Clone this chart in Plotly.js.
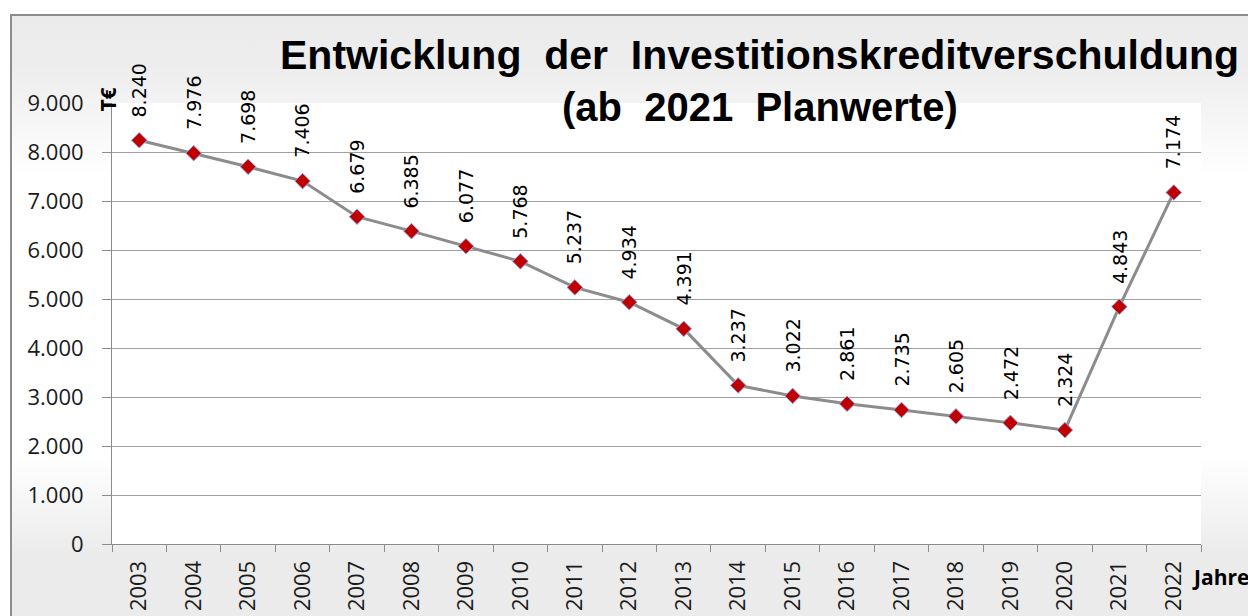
<!DOCTYPE html>
<html><head><meta charset="utf-8">
<script src="https://cdn.plot.ly/plotly-3.0.1.min.js"></script>
<style>
html,body{margin:0;padding:0;background:#fff;}
#wrap{position:relative;width:1248px;height:616px;overflow:hidden;}
#frame{position:absolute;left:10px;top:14px;width:1300px;height:700px;border-left:2px solid #8c8c8c;border-top:2px solid #8c8c8c;
background:linear-gradient(to bottom,#ebebeb 0px,#ededed 50px,#ffffff 160px,#ffffff 440px,#ebebeb 540px,#ebebeb 700px);}
#chart{position:absolute;left:0;top:0;width:1248px;height:616px;}
</style></head>
<body><div id="wrap"><div id="frame"></div><div id="chart"></div></div>
<script>
const years = ["2003","2004","2005","2006","2007","2008","2009","2010","2011","2012","2013","2014","2015","2016","2017","2018","2019","2020","2021","2022"];
const values = [8240,7976,7698,7406,6679,6385,6077,5768,5237,4934,4391,3237,3022,2861,2735,2605,2472,2324,4843,7174];
const yTicks = [0,1000,2000,3000,4000,5000,6000,7000,8000,9000];
const titleLine1 = "Entwicklung\u00a0 der\u00a0 Investitionskreditverschuldung";
const titleLine2 = "(ab\u00a0 2021\u00a0 Planwerte)";
const yUnit = "T€";
const xUnit = "Jahre";

function fmt(v){ return String(v).replace(/\B(?=(\d{3})+(?!\d))/g, "."); }

const trace = {
  type: "scatter", mode: "lines+markers",
  x: years, y: values,
  line: {color: "#8c8c8c", width: 3},
  marker: {symbol: "diamond", size: 12, color: "#c00000", line: {color: "#8fa8e0", width: 1}},
  cliponaxis: false, hoverinfo: "skip"
};

// category axis: annotation x given as category index so numeric-looking names are not read as indices
const labelAnns = years.map((yr, i) => ({
  x: years.indexOf(yr), y: values[i], xref: "x", yref: "y",
  text: fmt(values[i]), textangle: -90, showarrow: false,
  xanchor: "center", yanchor: "bottom", yshift: 21,
  font: {family: "DejaVu Sans", size: 19, color: "#000"}
}));

const otherAnns = [
  {xref: "paper", yref: "paper", x: 0.5945, y: 1.108, text: titleLine1, showarrow: false,
   xanchor: "center", yanchor: "middle", font: {family: "Liberation Sans, Arial", size: 41, color: "#000", weight: "bold"}},
  {xref: "paper", yref: "paper", x: 0.5955, y: 0.99, text: titleLine2, showarrow: false,
   xanchor: "center", yanchor: "middle", font: {family: "Liberation Sans, Arial", size: 40, color: "#000", weight: "bold"}},
  {xref: "paper", yref: "paper", x: -0.004, y: 1.007, text: yUnit, textangle: -90, showarrow: false,
   xanchor: "center", yanchor: "middle", font: {family: "Open Sans", size: 21, color: "#000", weight: "bold"}},
  {xref: "paper", yref: "paper", x: 0.99, y: -0.075, text: xUnit, showarrow: false,
   xanchor: "left", yanchor: "middle", font: {family: "Open Sans", size: 21, color: "#000", weight: "bold"}}
];

const layout = {
  width: 1248, height: 616,
  margin: {l: 112, r: 47, t: 103, b: 72},
  paper_bgcolor: "rgba(0,0,0,0)", plot_bgcolor: "#ffffff",
  separators: ",.",
  showlegend: false,
  xaxis: {
    type: "category", range: [-0.5, 19.5], tickson: "boundaries",
    ticks: "outside", ticklen: 7, tickwidth: 1, tickcolor: "#8c8c8c",
    showline: true, linecolor: "#8c8c8c", linewidth: 1, showgrid: false,
    tickangle: -90, ticklabelstandoff: 7,
    tickfont: {family: "Open Sans", size: 22, color: "#1a1a1a"}
  },
  yaxis: {
    range: [0, 9000], tickvals: yTicks, tickformat: ",d",
    ticks: "outside", ticklen: 9, tickwidth: 1, tickcolor: "#8c8c8c",
    showline: true, linecolor: "#8c8c8c", linewidth: 1,
    showgrid: true, gridcolor: "#a0a0a0", gridwidth: 1, zeroline: false,
    ticklabelstandoff: 14,
    tickfont: {family: "Open Sans", size: 22, color: "#1a1a1a"}
  },
  annotations: labelAnns.concat(otherAnns)
};

Plotly.newPlot("chart", [trace], layout, {displayModeBar: false, staticPlot: true});
</script>
</body></html>
